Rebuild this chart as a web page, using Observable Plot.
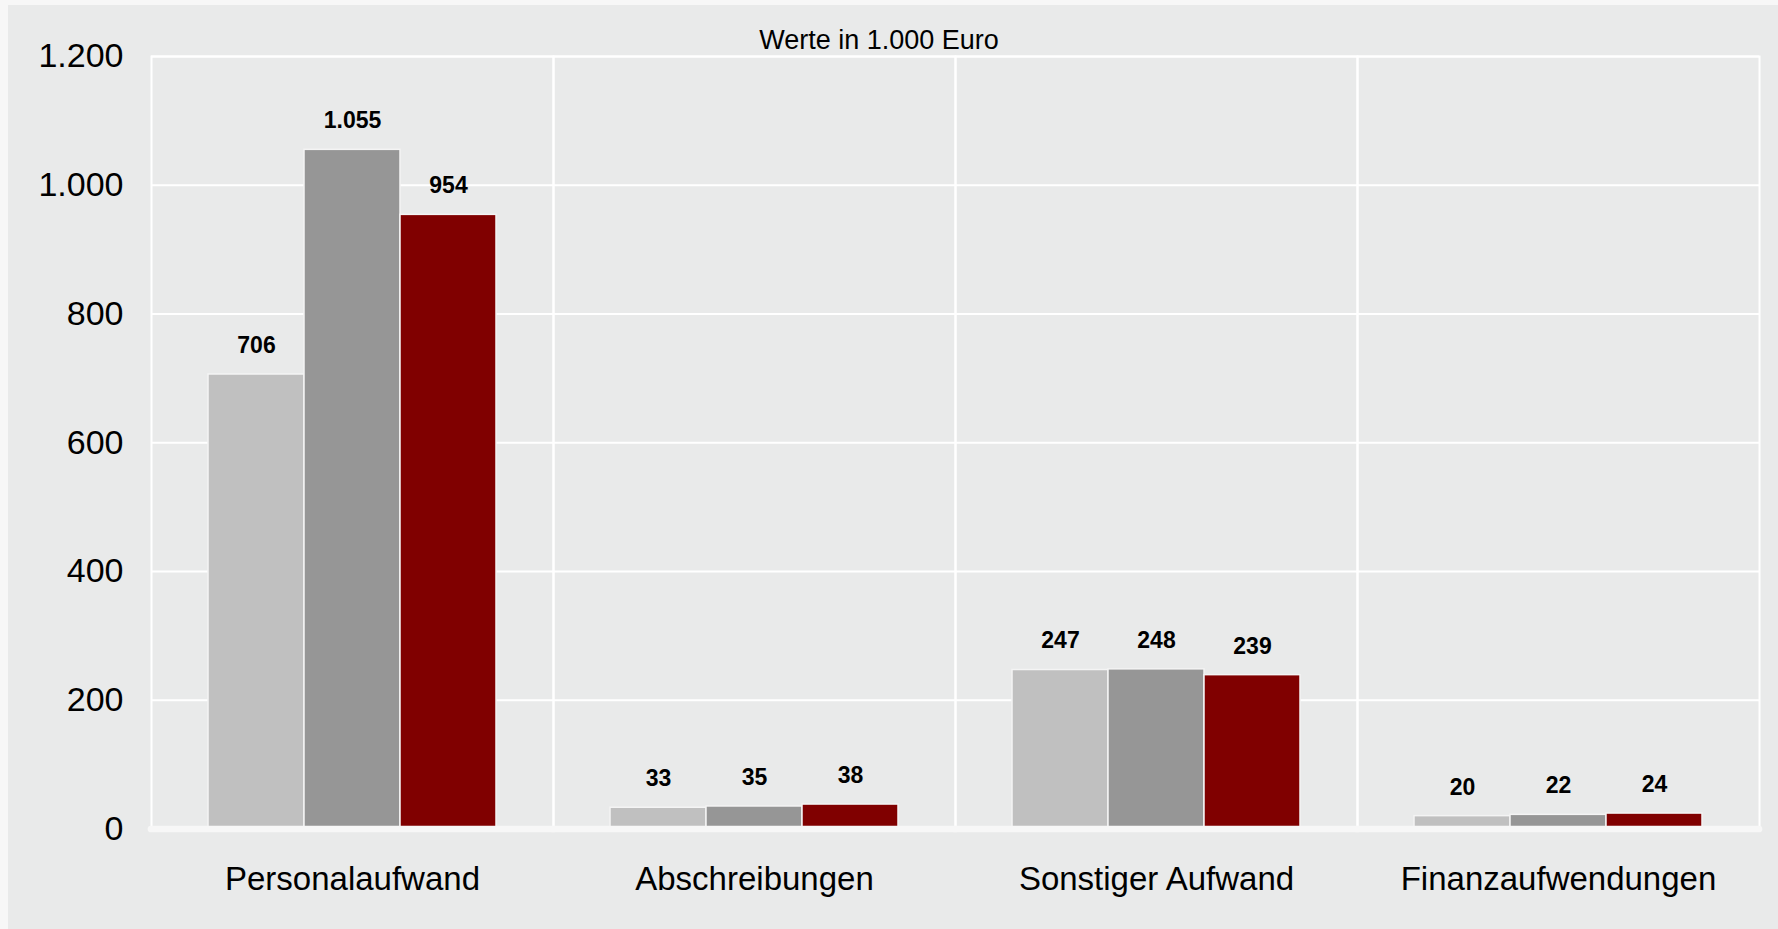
<!DOCTYPE html>
<html>
<head>
<meta charset="utf-8">
<script src="https://cdn.jsdelivr.net/npm/d3@7"></script>
<script src="https://cdn.jsdelivr.net/npm/@observablehq/plot@0.6"></script>
<style>
  html, body { margin: 0; padding: 0; background: #f7f7f7; }
  #outer { position: relative; width: 1778px; height: 929px; background: #f7f7f7; overflow: hidden; }
  #panel { position: absolute; left: 8px; top: 5px; width: 1770px; height: 924px; background: #e9eaea; }
  #title { position: relative; height: 40px; width: 100%; }
  #title span { position: absolute; left: 871px; top: 22px; transform: translateX(-50%);
    font-family: "Liberation Sans", Arial, sans-serif; font-size: 27px; line-height: 27px; color: #000; white-space: nowrap; }
  #chart svg { display: block; }
</style>
</head>
<body>
<div id="outer">
  <div id="panel">
    <div id="title"><span>Werte in 1.000 Euro</span></div>
    <div id="chart"></div>
  </div>
</div>
<script>
const categories = ["Personalaufwand", "Abschreibungen", "Sonstiger Aufwand", "Finanzaufwendungen"];
const seriesNames = ["Reihe 1", "Reihe 2", "Reihe 3"];
const series1 = [706, 33, 247, 20];
const series2 = [1055, 35, 248, 22];
const series3 = [954, 38, 239, 24];
const seriesColors = ["#c0c0c0", "#969696", "#800000"];
const yTicks = [0, 200, 400, 600, 800, 1000, 1200];

const allSeries = [series1, series2, series3];
const data = [];
categories.forEach((c, i) => {
  seriesNames.forEach((s, j) => {
    data.push({category: c, series: s, value: allSeries[j][i]});
  });
});

const de = d3.formatLocale({decimal: ",", thousands: ".", grouping: [3], currency: ["", " €"]});
const fmt = de.format(",d");

const chart = Plot.plot({
  width: 1770,
  height: 884,
  marginLeft: 143,
  marginRight: 19,
  marginTop: 11,
  marginBottom: 100.5,
  style: {background: "transparent", fontFamily: "'Liberation Sans', Arial, sans-serif", overflow: "visible", color: "#000"},
  fx: {domain: categories, padding: 0},
  x: {domain: seriesNames, paddingInner: 0, paddingOuter: 0.589, axis: null},
  y: {domain: [0, 1200]},
  color: {domain: seriesNames, range: seriesColors},
  marks: [
    Plot.frame({stroke: "#ffffff", strokeWidth: 2}),
    Plot.gridY(yTicks, {stroke: "#ffffff", strokeOpacity: 1, strokeWidth: 2}),
    Plot.barY(data, {fx: "category", x: "series", y: "value", fill: "series", stroke: "#f4f4f4", strokeWidth: 1.5}),
    Plot.ruleY([0], {stroke: "#f7f7f7", strokeWidth: 6.7, strokeLinecap: "round"}),
    Plot.text(data, {fx: "category", x: "series", y: "value", text: d => fmt(d.value), dy: -29,
      lineAnchor: "middle", fontWeight: "bold", fontSize: 23, fill: "#000"}),
    Plot.axisY(yTicks, {tickFormat: fmt, tickSize: 0, tickPadding: 28, fontSize: 34, label: null}),
    Plot.axisFx({anchor: "bottom", tickSize: 0, tickPadding: 37.5, fontSize: 33, label: null})
  ]
});
document.getElementById("chart").appendChild(chart);
</script>
</body>
</html>
